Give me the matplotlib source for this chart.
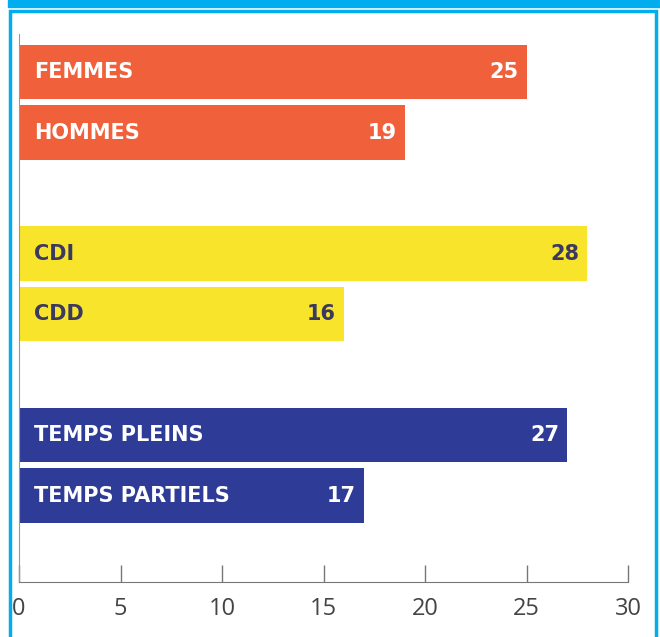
import matplotlib
matplotlib.use("Agg")
import matplotlib.pyplot as plt
from matplotlib.patches import Rectangle

# données
labels = ["FEMMES", "HOMMES", "CDI", "CDD", "TEMPS PLEINS", "TEMPS PARTIELS"]
values = [25, 19, 28, 16, 27, 17]
positions = [0, 1, 3, 4, 6, 7]
bar_colors = ["#F0603A", "#F0603A", "#F8E42A", "#F8E42A", "#2E3C98", "#2E3C98"]
text_colors = ["white", "white", "#3B3A5E", "#3B3A5E", "white", "white"]
xticks = [0, 5, 10, 15, 20, 25, 30]

CYAN = "#00AEEF"

fig = plt.figure(figsize=(6.6, 6.37), dpi=100)
fig.patch.set_facecolor("white")

# cadre bleu
fig.patches.append(Rectangle((8 / 660, 1 - 7 / 637), 652 / 660, 7 / 637,
                             transform=fig.transFigure, color=CYAN, zorder=0))
fig.patches.append(Rectangle((10.5 / 660, -0.05), 645 / 660, 1 - 10.5 / 637 + 0.05,
                             transform=fig.transFigure, fill=False,
                             edgecolor=CYAN, linewidth=2.5, zorder=0))

ax = fig.add_axes([19 / 660, 55 / 637, 609 / 660, 548 / 637])
ax.barh(positions, values, height=0.9, color=bar_colors, zorder=2)

for p, lab, v, tc in zip(positions, labels, values, text_colors):
    ax.text(0.75, p, lab, color=tc, fontsize=15, fontweight="bold",
            va="center", ha="left", family="DejaVu Sans", zorder=3)
    ax.text(v - 0.4, p, str(v), color=tc, fontsize=15, fontweight="bold",
            va="center", ha="right", family="DejaVu Sans", zorder=3)

ax.set_xlim(0, 30)
ax.set_ylim(8.43, -0.63)
ax.set_yticks([])
ax.set_xticks(xticks)
ax.set_xticklabels([str(t) for t in xticks], fontsize=17, color="#444444",
                   family="Open Sans")
ax.tick_params(axis="x", direction="in", length=12, width=1, color="#777777", pad=11)

for s in ["top", "right"]:
    ax.spines[s].set_visible(False)
ax.spines["bottom"].set_color("#777777")
ax.spines["left"].set_color("#999999")
ax.spines["left"].set_linewidth(0.8)

fig.savefig("out.png", dpi=100)
